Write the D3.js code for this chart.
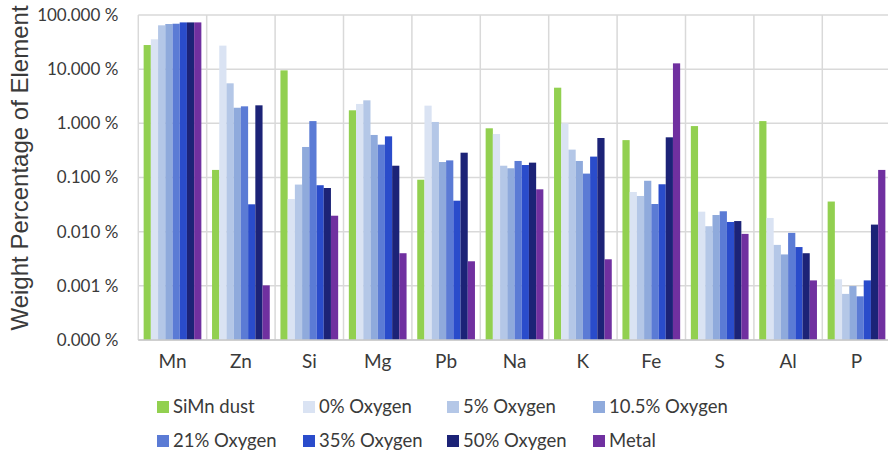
<!DOCTYPE html>
<html>
<head>
<meta charset="utf-8">
<script src="https://cdn.jsdelivr.net/npm/d3@7/dist/d3.min.js"></script>
<style>
  html, body { margin: 0; padding: 0; background: #fff; }
  svg { display: block; }
</style>
</head>
<body>
<svg id="chart" width="888" height="455"></svg>
<script>
// Elements analysed
const elements = ["Mn", "Zn", "Si", "Mg", "Pb", "Na", "K", "Fe", "S", "Al", "P"];

// Sample series (legend order)
const seriesNames = ["SiMn dust", "0% Oxygen", "5% Oxygen", "10.5% Oxygen",
                     "21% Oxygen", "35% Oxygen", "50% Oxygen", "Metal"];

// Weight percentage (%) of each element, one array per series, in element order
const siMnDust  = [27.9, 0.138, 9.5, 1.74, 0.091, 0.81, 4.55, 0.49, 0.89, 1.10, 0.036];
const oxygen0   = [35.6, 27.2, 0.040, 2.28, 2.12, 0.635, 1.00, 0.054, 0.0234, 0.0179, 0.00132];
const oxygen5   = [64.5, 5.48, 0.074, 2.66, 1.06, 0.165, 0.327, 0.0456, 0.0126, 0.0057, 0.00071];
const oxygen10  = [68.2, 1.94, 0.366, 0.61, 0.193, 0.148, 0.202, 0.087, 0.0203, 0.0038, 0.00099];
const oxygen21  = [69.0, 2.06, 1.10, 0.404, 0.207, 0.202, 0.118, 0.0324, 0.0238, 0.0095, 0.00064];
const oxygen35  = [73.0, 0.032, 0.072, 0.575, 0.0373, 0.170, 0.243, 0.075, 0.0151, 0.0052, 0.00126];
const oxygen50  = [73.0, 2.15, 0.064, 0.165, 0.287, 0.188, 0.536, 0.552, 0.0157, 0.0040, 0.0135];
const metal     = [73.0, 0.00102, 0.0197, 0.0040, 0.00284, 0.0605, 0.00309, 12.8, 0.0091, 0.00126, 0.138];

const seriesValues = [siMnDust, oxygen0, oxygen5, oxygen10, oxygen21, oxygen35, oxygen50, metal];

// Y axis ticks, in %
const yTicks = [0.0001, 0.001, 0.01, 0.1, 1, 10, 100];

const colors = ["#92d050", "#dae3f3", "#b4c7e7", "#8faadc",
                "#5b7bd5", "#2a4ccb", "#1c2377", "#7030a0"];

const svg = d3.select("#chart");
const plot = { left: 138.3, right: 890.7, top: 15, bottom: 340 };

const x0 = d3.scaleBand().domain(elements).range([plot.left, plot.right]).padding(0);
const x1 = d3.scaleBand().domain(seriesNames).range([0, x0.bandwidth()])
  .paddingInner(0).paddingOuter(0.74);
const y = d3.scaleLog().domain([0.0001, 100]).range([plot.bottom, plot.top]);

const color = d3.scaleOrdinal().domain(seriesNames).range(colors);

const gridColor = "#d9d9d9";
const textColor = "#3a3a3a";

// Horizontal grid lines
svg.append("g")
  .selectAll("line")
  .data(yTicks)
  .join("line")
  .attr("x1", plot.left).attr("x2", plot.right)
  .attr("y1", d => y(d)).attr("y2", d => y(d))
  .attr("stroke", gridColor).attr("stroke-width", 1.5);

// Vertical separators between categories
const bounds = elements.map(e => x0(e)).concat([plot.right]);
svg.append("g")
  .selectAll("line")
  .data(bounds)
  .join("line")
  .attr("x1", d => d).attr("x2", d => d)
  .attr("y1", plot.top).attr("y2", plot.bottom)
  .attr("stroke", gridColor).attr("stroke-width", 1.5);

// Bars
const rows = [];
elements.forEach((el, i) => {
  seriesNames.forEach((s, j) => rows.push({ el, s, v: seriesValues[j][i] }));
});
svg.append("g")
  .selectAll("rect")
  .data(rows)
  .join("rect")
  .attr("x", d => x0(d.el) + x1(d.s))
  .attr("width", x1.bandwidth())
  .attr("y", d => y(d.v))
  .attr("height", d => y(0.0001) - y(d.v))
  .attr("fill", d => color(d.s));

// Bottom axis line
svg.append("line")
  .attr("x1", plot.left).attr("x2", plot.right)
  .attr("y1", plot.bottom).attr("y2", plot.bottom)
  .attr("stroke", "#c8c8c8").attr("stroke-width", 1.5);

// Y axis labels
const yAxis = d3.axisLeft(y).tickValues(yTicks)
  .tickFormat(d => d3.format(".3f")(d) + " %")
  .tickSize(0).tickPadding(20);
const gy = svg.append("g").attr("transform", `translate(${plot.left},0)`).call(yAxis);
gy.select(".domain").remove();
gy.selectAll("text")
  .attr("font-family", "Lato, 'Open Sans', sans-serif")
  .attr("font-size", 17)
  .attr("fill", textColor);

// X axis labels
const xAxis = d3.axisBottom(x0).tickSize(0).tickPadding(15);
const gx = svg.append("g").attr("transform", `translate(0,${plot.bottom})`).call(xAxis);
gx.select(".domain").remove();
gx.selectAll("text")
  .attr("font-family", "Lato, 'Open Sans', sans-serif")
  .attr("font-size", 19)
  .attr("fill", textColor);

// Y axis title
svg.append("text")
  .attr("transform", "translate(28,168) rotate(-90)")
  .attr("text-anchor", "middle")
  .attr("font-family", "'Liberation Sans', Arial, sans-serif")
  .attr("font-size", 24)
  .attr("fill", textColor)
  .text("Weight Percentage of Element");

// Legend: two rows of four
const legendCols = [157, 303, 447, 593];
const legendRows = [413, 447];
const legend = svg.append("g")
  .selectAll("g")
  .data(seriesNames)
  .join("g")
  .attr("transform", (d, i) => `translate(${legendCols[i % 4]},${legendRows[Math.floor(i / 4)]})`);
legend.append("rect")
  .attr("x", 0).attr("y", -12).attr("width", 12).attr("height", 12)
  .attr("fill", d => color(d));
legend.append("text")
  .attr("x", 16).attr("y", 0)
  .attr("font-family", "Lato, 'Open Sans', sans-serif")
  .attr("font-size", 18.5)
  .attr("fill", textColor)
  .text(d => d);
</script>
</body>
</html>
